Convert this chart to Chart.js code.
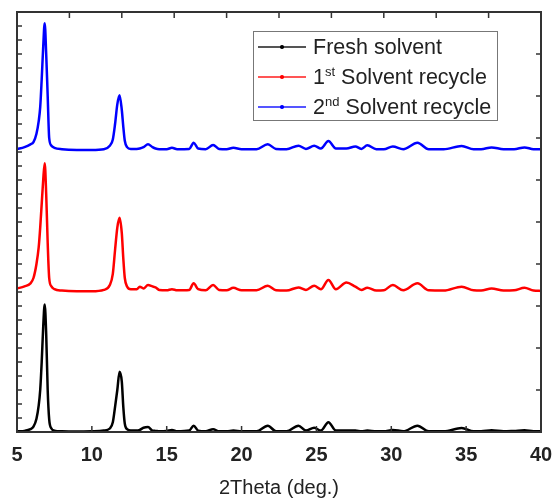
<!DOCTYPE html>
<html>
<head>
<meta charset="utf-8">
<script src="https://cdn.jsdelivr.net/npm/chart.js@4.4.0/dist/chart.umd.min.js"></script>
<style>
    body { margin: 0; background: #fff; }
    #wrap { position: relative; width: 558px; height: 504px; }
    #legend {
        position: absolute; left: 253px; top: 31px; width: 243px; height: 88px;
        border: 1px solid #777; background: #fff;
        font-family: "Liberation Sans", Arial, sans-serif; font-size: 21.5px; color: #222;
    }
    .row { position: absolute; left: 0; height: 30px; line-height: 30px; white-space: nowrap; }
    .sample { position: absolute; left: 4px; top: 14px; width: 48px; height: 1.5px; }
    .sample i { position: absolute; left: 22px; top: -1px; width: 3.5px; height: 3.5px; border-radius: 50%; }
    .label { position: absolute; left: 59px; top: 0; }
    sup { font-size: 13px; vertical-align: 0; position: relative; top: -8px; }
</style>
</head>
<body>
<div id="wrap">
    <canvas id="xrdChart" width="558" height="504"></canvas>
    <div id="legend">
        <div class="row" style="top:0px"><span class="sample" style="background:#555"><i style="background:#000"></i></span><span class="label">Fresh solvent</span></div>
        <div class="row" style="top:30px"><span class="sample" style="background:#f55"><i style="background:#f00"></i></span><span class="label">1<sup>st</sup> Solvent recycle</span></div>
        <div class="row" style="top:60px"><span class="sample" style="background:#55f"><i style="background:#00f"></i></span><span class="label">2<sup>nd</sup> Solvent recycle</span></div>
    </div>
</div>
<script>
// 2Theta positions (deg.)
const twoTheta = [5.0, 5.5, 5.9, 6.1, 6.3, 6.45, 6.55, 6.65, 6.75, 6.85, 6.95, 7.05, 7.15, 7.3, 7.5, 8.0, 9.0, 10.0,
    10.8, 11.2, 11.4, 11.55, 11.7, 11.85, 12.0, 12.1, 12.2, 12.35, 12.6, 13.0, 13.2, 13.45, 13.75, 14.05, 14.25, 14.5,
    15.0, 15.35, 15.7, 16.5, 16.8, 17.1, 17.6, 18.1, 18.5, 19.0, 19.45, 20.0, 21.0, 21.75, 22.3, 23.0, 23.8, 24.3,
    24.85, 25.3, 25.8, 26.3, 27.0, 27.6, 28.0, 28.4, 29.0, 29.5, 30.1, 30.8, 31.75, 32.5, 33.5, 34.7, 35.5, 36.0,
    36.7, 37.5, 38.2, 38.9, 39.5, 40.0];

// intensities (a.u., stacked with offsets as in the figure)
const freshSolvent = [0.05, 0.08, 0.2, 0.38, 0.95, 1.9, 3.0, 5.0, 7.5, 9.1, 7.0, 3.0, 0.9, 0.25, 0.1, 0.05, 0.03, 0.05,
    0.1, 0.25, 0.7, 1.8, 3.0, 4.3, 3.6, 1.8, 0.6, 0.2, 0.1, 0.1, 0.15, 0.3, 0.35, 0.1, 0.08, 0.05,
    0.08, 0.15, 0.05, 0.1, 0.45, 0.1, 0.05, 0.2, 0.05, 0.05, 0.1, 0.05, 0.05, 0.45, 0.05, 0.05, 0.45, 0.1,
    0.3, 0.1, 0.7, 0.1, 0.1, 0.1, 0.05, 0.1, 0.05, 0.05, 0.15, 0.05, 0.45, 0.05, 0.05, 0.28, 0.05, 0.05,
    0.12, 0.05, 0.08, 0.12, 0.05, 0.05];

const recycle1 = [10.25, 10.4, 10.62, 11.0, 12.0, 13.2, 14.6, 16.3, 18.0, 19.2, 17.0, 13.5, 11.0, 10.4, 10.2, 10.1, 10.05, 10.05,
    10.15, 10.5, 11.3, 13.0, 14.6, 15.3, 14.2, 12.4, 11.0, 10.4, 10.2, 10.2, 10.38, 10.25, 10.5, 10.4, 10.33, 10.15,
    10.12, 10.2, 10.12, 10.15, 10.62, 10.2, 10.12, 10.5, 10.15, 10.12, 10.3, 10.12, 10.12, 10.45, 10.12, 10.1, 10.33, 10.15,
    10.45, 10.2, 10.86, 10.2, 10.67, 10.38, 10.15, 10.3, 10.1, 10.12, 10.5, 10.12, 10.62, 10.12, 10.1, 10.38, 10.12, 10.1,
    10.25, 10.1, 10.12, 10.3, 10.1, 10.08];

const recycle2 = [20.2, 20.35, 20.55, 20.7, 21.3, 22.2, 23.2, 25.2, 27.5, 29.2, 27.0, 24.0, 21.0, 20.45, 20.3, 20.2, 20.15, 20.15,
    20.2, 20.45, 20.9, 22.0, 23.4, 24.05, 23.0, 21.8, 20.8, 20.35, 20.22, 20.22, 20.25, 20.35, 20.55, 20.35, 20.25, 20.2,
    20.2, 20.3, 20.2, 20.22, 20.66, 20.25, 20.2, 20.5, 20.22, 20.2, 20.3, 20.2, 20.2, 20.55, 20.22, 20.2, 20.45, 20.22,
    20.45, 20.25, 20.78, 20.25, 20.25, 20.4, 20.22, 20.48, 20.2, 20.2, 20.4, 20.2, 20.66, 20.2, 20.2, 20.43, 20.2, 20.2,
    20.33, 20.2, 20.2, 20.33, 20.2, 20.2];

const seriesNames = ['Fresh solvent', '1st Solvent recycle', '2nd Solvent recycle'];
const seriesColors = ['#000000', '#ff0000', '#0000ff'];
const xTicks = [5, 10, 15, 20, 25, 30, 35, 40];

function toPoints(ys) {
    return twoTheta.map((x, i) => ({ x: x, y: ys[i] }));
}

// frame + inward ticks, Origin style
const framePlugin = {
    id: 'frame',
    afterDraw(chart) {
        const ctx = chart.ctx;
        const a = chart.chartArea;
        const s = chart.scales;
        ctx.save();
        ctx.strokeStyle = '#333';
        ctx.lineWidth = 1.5;
        ctx.beginPath();
        s.x.ticks.forEach(t => {
            const px = s.x.getPixelForValue(t.value);
            ctx.moveTo(px, a.bottom); ctx.lineTo(px, a.bottom - 6);
        });
        s.x2.ticks.forEach(t => {
            const px = s.x2.getPixelForValue(t.value);
            ctx.moveTo(px, a.top); ctx.lineTo(px, a.top + 6);
        });
        s.y.ticks.forEach(t => {
            const py = s.y.getPixelForValue(t.value);
            ctx.moveTo(a.left, py); ctx.lineTo(a.left + 5, py);
        });
        s.y2.ticks.forEach(t => {
            const py = s.y2.getPixelForValue(t.value);
            ctx.moveTo(a.right, py); ctx.lineTo(a.right - 5, py);
        });
        ctx.stroke();
        ctx.lineWidth = 2;
        ctx.strokeRect(a.left, a.top, a.right - a.left, a.bottom - a.top);
        ctx.restore();
    }
};

const hidden = { grid: { display: false, drawTicks: false }, border: { display: false } };

new Chart(document.getElementById('xrdChart'), {
    type: 'line',
    data: {
        datasets: [freshSolvent, recycle1, recycle2].map((ys, i) => ({
            label: seriesNames[i],
            data: toPoints(ys),
            borderColor: seriesColors[i],
            backgroundColor: seriesColors[i],
            borderWidth: 2.5,
            pointRadius: 0,
            cubicInterpolationMode: 'monotone',
            fill: false
        }))
    },
    options: {
        responsive: false,
        animation: false,
        layout: { padding: 0 },
        plugins: { legend: { display: false }, tooltip: { enabled: false } },
        scales: {
            x: {
                type: 'linear', position: 'bottom', min: 5, max: 40,
                afterBuildTicks: sc => { sc.ticks = xTicks.map(v => ({ value: v })); },
                ticks: {
                    padding: 11, color: '#222', maxRotation: 0,
                    font: { family: '"Liberation Sans", Arial, sans-serif', size: 20, weight: 'bold' }
                },
                title: {
                    display: true, text: '2Theta (deg.)', color: '#222', padding: { top: 11 },
                    font: { family: '"Liberation Sans", Arial, sans-serif', size: 20 }
                },
                afterFit: sc => { sc.height = 72; sc.paddingLeft = 0; sc.paddingRight = 0; },
                ...hidden
            },
            x2: {
                type: 'linear', position: 'top', min: 0, max: 10,
                ticks: { display: false, stepSize: 1 },
                afterFit: sc => { sc.height = 12; },
                ...hidden
            },
            y: {
                type: 'linear', position: 'left', min: 0, max: 30,
                ticks: { display: false, stepSize: 1 },
                afterFit: sc => { sc.width = 17; },
                ...hidden
            },
            y2: {
                type: 'linear', position: 'right', min: 0, max: 10,
                ticks: { display: false, stepSize: 1 },
                afterFit: sc => { sc.width = 17; },
                ...hidden
            }
        }
    },
    plugins: [framePlugin]
});
</script>
</body>
</html>
